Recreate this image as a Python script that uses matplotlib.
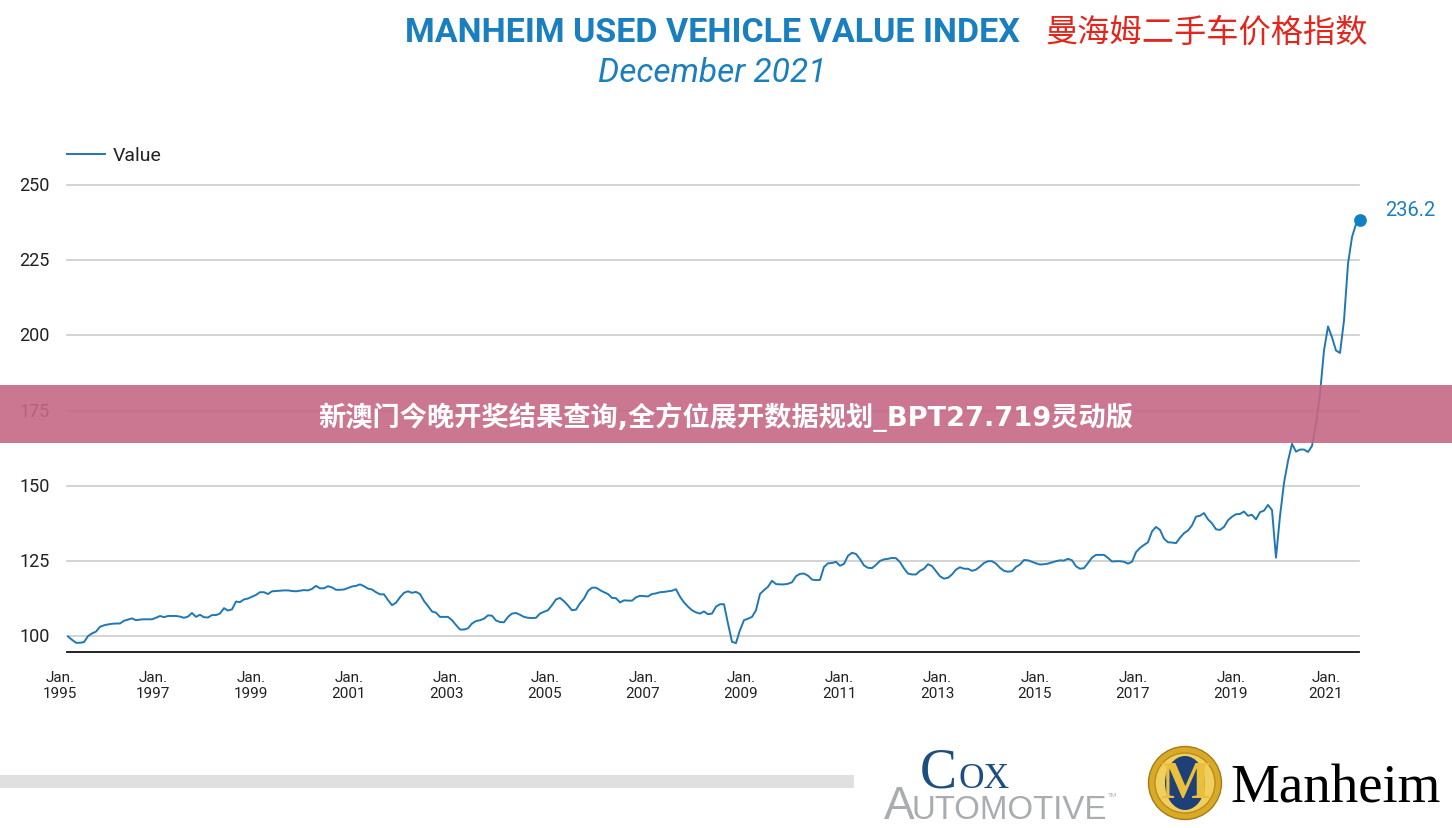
import matplotlib
matplotlib.use("Agg")
import matplotlib.pyplot as plt
import numpy as np
from matplotlib.patches import Circle, Ellipse, Rectangle

W, H = 1452, 829

# Valeurs mensuelles, une ligne par annee (1995 -> 2021)
values = [
    100.0, 98.9, 97.9, 97.9, 98.1, 100.1, 101.0, 101.6, 103.2, 103.7, 104.0, 104.2,
    104.3, 104.3, 105.2, 105.6, 106.0, 105.4, 105.6, 105.7, 105.7, 105.7, 106.2, 106.8,
    106.4, 106.8, 106.8, 106.8, 106.6, 106.2, 106.6, 107.8, 106.5, 107.2, 106.4, 106.3,
    107.1, 107.1, 107.6, 109.4, 108.6, 109.0, 111.6, 111.4, 112.3, 112.6, 113.2, 113.8,
    114.7, 114.7, 114.1, 115.0, 115.1, 115.2, 115.3, 115.3, 115.1, 115.0, 115.2, 115.4,
    115.3, 115.8, 116.8, 116.0, 116.0, 116.7, 116.3, 115.5, 115.5, 115.6, 116.1, 116.6,
    116.8, 117.3, 116.7, 115.9, 115.6, 114.7, 114.0, 114.0, 112.1, 110.4, 111.2, 113.0,
    114.5, 115.0, 114.5, 114.8, 114.1, 111.8, 110.1, 108.3, 107.9, 106.5, 106.5, 106.5,
    105.4, 103.8, 102.3, 102.3, 102.7, 104.3, 105.1, 105.4, 105.9, 107.0, 106.9, 105.3,
    104.8, 104.7, 106.5, 107.6, 107.8, 107.2, 106.5, 106.2, 106.1, 106.2, 107.6, 108.2,
    108.7, 110.4, 112.3, 112.8, 111.7, 110.3, 108.7, 108.9, 111.0, 112.6, 115.1, 116.2,
    116.2, 115.4, 114.7, 114.1, 112.8, 112.7, 111.3, 112.0, 111.9, 111.9, 113.0, 113.5,
    113.4, 113.3, 114.1, 114.3, 114.7, 114.8, 115.0, 115.2, 115.7, 113.2, 111.3, 109.9,
    108.7, 108.0, 107.6, 108.3, 107.4, 107.6, 109.9, 110.7, 110.7, 104.3, 98.2, 97.8,
    102.1, 105.4, 105.9, 106.5, 108.7, 114.1, 115.4, 116.5, 118.5, 117.4, 117.3, 117.3,
    117.5, 118.0, 120.0, 120.8, 120.9, 120.2, 118.9, 118.7, 118.8, 123.1, 124.3, 124.4,
    124.8, 123.5, 124.1, 126.8, 127.8, 127.4, 125.7, 123.6, 122.8, 122.7, 123.8, 125.1,
    125.6, 125.8, 126.1, 126.0, 124.7, 122.6, 120.9, 120.6, 120.6, 121.8, 122.5, 124.0,
    123.4, 121.7, 120.0, 119.2, 119.5, 120.6, 122.2, 123.0, 122.5, 122.5, 121.8, 122.2,
    123.2, 124.4, 125.0, 125.0, 124.2, 122.8, 121.8, 121.5, 121.7, 123.1, 123.9, 125.4,
    125.3, 124.8, 124.3, 123.9, 124.0, 124.2, 124.6, 125.0, 125.3, 125.2, 125.8, 125.3,
    123.3, 122.5, 122.7, 124.4, 126.2, 127.1, 127.1, 127.1, 126.1, 124.9, 125.0, 125.0,
    124.8, 124.2, 124.8, 128.0, 129.4, 130.4, 131.3, 134.9, 136.4, 135.4, 132.5, 131.3,
    131.2, 131.0, 132.8, 134.3, 135.2, 136.9, 139.8, 140.1, 141.0, 138.9, 137.6, 135.6,
    135.4, 136.4, 138.6, 139.8, 140.6, 140.7, 141.5, 140.1, 140.4, 138.9, 141.3, 141.8,
    143.7, 142.0, 126.2, 140.0, 151.0, 158.3, 164.0, 161.4, 162.1, 162.1, 161.3, 163.3,
    170.7, 180.6, 195.0, 203.0, 199.4, 195.0, 194.2, 205.0, 223.8, 232.7, 237.0, 238.3,
]
tick_years = [1995, 1997, 1999, 2001, 2003, 2005, 2007, 2009, 2011, 2013, 2015, 2017, 2019, 2021]
# mois depuis janv. 1995 : les etiquettes de l'original ne tombent pas pile sous les donnees
tick_months = [-2, 21.25, 45.75, 70.25, 94.75, 119.25, 143.75, 168.25, 192.75, 217.25, 241.75, 266.25, 290.75, 314.5]
y_ticks = [100, 125, 150, 175, 200, 225, 250]
last_label = "236.2"

BLUE = "#1a7fbf"
LINE = "#1f78b4"
plt.rcParams["font.family"] = ["Roboto", "DejaVu Sans"]


def main():
    fig = plt.figure(figsize=(W / 100, H / 100), dpi=100, facecolor="white")

    # axe principal : x = 67.3 -> 1359 px, y = 186 -> 652.5 px
    ax = fig.add_axes([67.3 / W, 1 - 652.5 / H, (1359 - 67.3) / W, (652.5 - 186) / H])
    months = np.arange(len(values))
    ax.plot(months, values, color=LINE, lw=1.4, label="Value", solid_joinstyle="round", zorder=3)
    ax.plot(months[-1], values[-1], "o", color="#1380c4", ms=9.2, mew=0, clip_on=False, zorder=4)
    ax.annotate(last_label, (months[-1], values[-1]), xytext=(18, 8), textcoords="offset points",
                color=BLUE, fontsize=14.5, va="center", annotation_clip=False)

    ax.set_yticks(y_ticks)
    ax.set_xticks(tick_months[1:])
    ax.set_xticklabels([f"Jan.\n{y}" for y in tick_years[1:]], fontsize=11, color="#222222", linespacing=1.15)
    # la premiere etiquette tombe hors de la vue, un tick n'y serait pas dessine
    ax.annotate(f"Jan.\n{tick_years[0]}", (tick_months[0], 0), xycoords=ax.get_xaxis_transform(),
                xytext=(0, -13.5), textcoords="offset points", ha="center", va="top",
                fontsize=11, color="#222222", linespacing=1.15, annotation_clip=False)
    # set_xticks elargit la vue, donc les limites viennent apres
    ax.set_xlim(-0.17, 322.75)
    ax.set_ylim(95, 250)
    ax.tick_params(axis="y", length=0, pad=12.5, labelsize=13, labelcolor="#222222")
    ax.tick_params(axis="x", length=0, pad=13.5)
    for lab in ax.get_yticklabels():
        lab.set_verticalalignment("center")
    ax.grid(axis="y", color="#cccccc", lw=1.2, clip_on=False)
    ax.set_axisbelow(True)
    for side in ["top", "left", "right"]:
        ax.spines[side].set_visible(False)
    ax.spines["bottom"].set_color("#111111")
    ax.spines["bottom"].set_linewidth(1.3)
    ax.legend(loc="lower left", bbox_to_anchor=(0, 1.044), frameon=False, fontsize=14,
              handlelength=1.95, handletextpad=0.4, borderaxespad=0, borderpad=0,
              labelcolor="#222222")

    # calque en pixels pour titres, bandeau et logos
    ov = fig.add_axes([0, 0, 1, 1], zorder=10)
    ov.set_xlim(0, W)
    ov.set_ylim(H, 0)
    ov.axis("off")
    ov.patch.set_alpha(0)

    ov.text(712, 33, "MANHEIM USED VEHICLE VALUE INDEX", color=BLUE, fontsize=24.5, weight="bold",
            ha="center", va="center")
    ov.text(712, 73, "December 2021", color=BLUE, fontsize=24, style="italic", ha="center", va="center")
    ov.text(1206.5, 33, "曼海姆二手车价格指数", color="#e2261c", fontsize=23.2, ha="center", va="center",
            family=["Noto Sans CJK SC", "DejaVu Sans"])

    ov.add_patch(Rectangle((0, 385.5), W, 58, fc=(0.778, 0.407, 0.521), alpha=0.9, ec="none"))
    ov.text(725.5, 417, "新澳门今晚开奖结果查询,全方位展开数据规划_BPT27.719灵动版", color="white", fontsize=19.6,
            weight="bold", ha="center", va="center", family=["DejaVu Sans", "Noto Sans CJK SC"])

    ov.add_patch(Rectangle((0, 776), 854, 13, fc="#e0e0e0", ec="none"))

    # Cox Automotive
    serif = ["Liberation Serif", "DejaVu Serif"]
    ov.text(920, 788, "C", color="#1c4f80", fontsize=40, family=serif, ha="left", va="baseline")
    ov.text(958, 788, "OX", color="#1c4f80", fontsize=25.5, family=serif, ha="left", va="baseline")
    ov.text(884, 819, "A", color="#a9adb0", fontsize=33, family="Liberation Sans", ha="left", va="baseline")
    ov.text(911, 819, "UTOMOTIVE", color="#a9adb0", fontsize=23.8, family="Liberation Sans", ha="left", va="baseline")
    ov.text(1108, 797, "TM", color="#a9adb0", fontsize=4.5, family="Liberation Sans", ha="left", va="baseline")

    # Manheim
    ov.add_patch(Circle((1185, 784), 36.5, fc="#d9a928", ec="#a67c12", lw=1))
    ov.add_patch(Circle((1185, 784), 30, fc="#f0cf5e", ec="#b98d1c", lw=1))
    ov.add_patch(Ellipse((1185, 784), 40, 54, fc="#1f3f78", ec="none"))
    ov.text(1185, 785, "M", color="#eabf3c", fontsize=38, weight="bold", family="Liberation Serif",
            ha="center", va="center")
    ov.text(1230, 803, "Manheim", color="black", fontsize=39.5, family=serif, ha="left", va="baseline")

    fig.savefig("out.png", dpi=100)


if __name__ == "__main__":
    main()
